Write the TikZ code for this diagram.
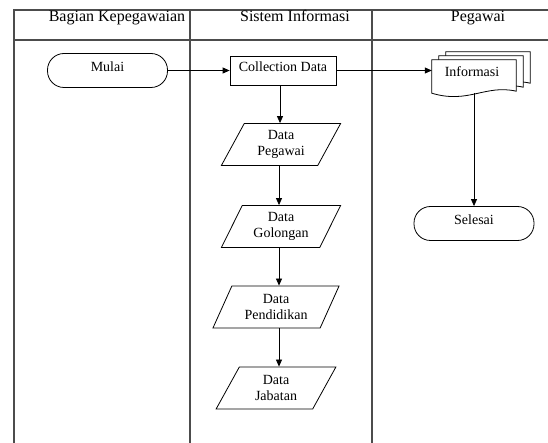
\documentclass[tikz,border=0pt]{standalone}
\usepackage{fontspec}
\setmainfont{Liberation Serif}
\usetikzlibrary{positioning,shapes.geometric,arrows.meta}

\newcommand{\docpage}[2]{%
  \draw[docline] ([shift={(#1,#2)}]info.south west) -- ([shift={(#1,#2)}]info.north west)
    -- ([shift={(#1,#2)}]info.north east) -- ([shift={(#1,#2-2)}]info.south east)
    .. controls ([shift={(#1-31,#2-9)}]info.south east) and ([shift={(#1-48,#2+11)}]info.south east)
    .. ([shift={(#1,#2)}]info.south west) -- cycle;}

\begin{document}
\begin{tikzpicture}[x=1pt,y=-1pt,
    lane/.style={draw=black!70, line width=1.3pt},
    header/.style={font=\fontsize{16}{19}\selectfont, anchor=base},
    label/.style={font=\fontsize{14}{16}\selectfont},
    terminal/.style={label, draw, line width=0.8pt, rounded corners=16.5pt, minimum width=120pt,
      minimum height=34pt, text depth=8pt},
    process/.style={label, draw, line width=0.8pt, minimum width=106pt, minimum height=29pt, text depth=8pt},
    iodata/.style={label, draw, line width=0.8pt, trapezium, trapezium left angle=63, trapezium right angle=117,
      trapezium stretches=true, minimum width=120pt, minimum height=42pt, align=center, inner sep=1pt},
    docline/.style={draw, line width=0.8pt, fill=white},
    flow/.style={line width=0.8pt, -{Triangle[length=7pt,width=6pt]}}]
  \useasboundingbox (0,0) rectangle (548,443);

  % swimlanes
  \draw[lane] (548,10) -- (14,10) -- (14,443);
  \draw[lane] (14,40) -- (548,40);
  \draw[lane] (190,10) -- (190,443);
  \draw[lane] (372,10) -- (372,443);
  \node[header] (hdbagian) at (117,22) {Bagian Kepegawaian};
  \node[header] (hdsistem) at (295,22) {Sistem Informasi};
  \node[header] (hdpegawai) at (478,22) {Pegawai};

  % flow
  \node[terminal] (mulai) at (107.5,70.5) {Mulai};
  \node[process] (cd) at (283,70.5) {Collection Data};
  \node[iodata] (dpeg) at (281,144.5) {Data\\Pegawai};
  \node[iodata] (dgol) at (281,226.5) {Data\\Golongan};
  \node[iodata, minimum width=127pt] (dpend) at (276,307) {Data\\Pendidikan};
  \node[iodata] (djab) at (276,388) {Data\\Jabatan};

  \node[label, minimum width=84pt, minimum height=33pt] (info) at (474,76.5) {};
  \docpage{14}{-8}
  \docpage{7}{-4}
  \docpage{0}{0}
  \node[label] (infotext) at (472,72) {Informasi};
  \node[terminal] (selesai) at (474,223.5) {Selesai};

  \draw[flow] (mulai.east) -- (cd.west);
  \draw[flow] (cd.east) -- (cd.east -| info.west);
  \draw[flow] (cd.south -| 280,0) -- (dpeg.north -| 280,0);
  \draw[flow] (dpeg.south -| 279,0) -- (dgol.north -| 279,0);
  \draw[flow] (dgol.south -| 279,0) -- (dpend.north -| 279,0);
  \draw[flow] (dpend.south -| 279,0) -- (djab.north -| 279,0);
  \draw[flow] (info.south) -- (selesai.north);
\end{tikzpicture}
\end{document}
